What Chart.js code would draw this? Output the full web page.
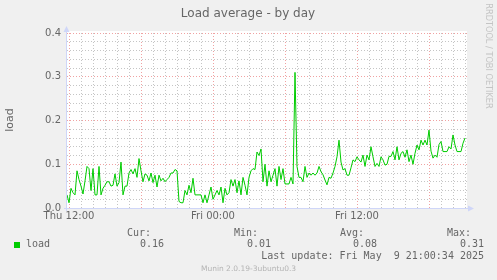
<!DOCTYPE html>
<html>
<head>
<meta charset="utf-8">
<script src="https://cdn.jsdelivr.net/npm/chart.js@4/dist/chart.umd.min.js"></script>
<style>
  html, body { margin: 0; padding: 0; background: #f0f0f0; }
  #wrap { position: relative; width: 497px; height: 280px; }
</style>
</head>
<body>
<div id="wrap"><canvas id="loadChart" width="497" height="280"></canvas></div>
<script>
// Load average samples, one every 10 minutes (hours counted from Thu 00:00)
const firstSampleHour = 11 + 50 / 60;
const sampleMinutes = 10;
const loadValues = [
  0.030, 0.012, 0.045, 0.035, 0.030, 0.085, 0.065, 0.050, 0.032, 0.062,
  0.095, 0.090, 0.040, 0.090, 0.030, 0.030, 0.095, 0.030, 0.045, 0.052,
  0.060, 0.060, 0.050, 0.052, 0.078, 0.050, 0.058, 0.105, 0.030, 0.050,
  0.050, 0.080, 0.088, 0.078, 0.090, 0.070, 0.113, 0.085, 0.060, 0.078,
  0.075, 0.062, 0.080, 0.058, 0.075, 0.048, 0.075, 0.062, 0.068, 0.060,
  0.065, 0.070, 0.080, 0.080, 0.088, 0.085, 0.015, 0.012, 0.012, 0.040,
  0.030, 0.052, 0.035, 0.068, 0.030, 0.030, 0.030, 0.030, 0.012, 0.030,
  0.012, 0.030, 0.048, 0.020, 0.030, 0.040, 0.030, 0.048, 0.012, 0.045,
  0.030, 0.035, 0.065, 0.050, 0.065, 0.035, 0.062, 0.030, 0.070, 0.052,
  0.030, 0.070, 0.085, 0.090, 0.088, 0.128, 0.120, 0.135, 0.060, 0.100,
  0.050, 0.085, 0.060, 0.075, 0.090, 0.050, 0.095, 0.065, 0.090, 0.055,
  0.055, 0.055, 0.070, 0.055, 0.310, 0.095, 0.070, 0.070, 0.060, 0.095,
  0.070, 0.080, 0.075, 0.080, 0.075, 0.080, 0.095, 0.083, 0.076, 0.064,
  0.053, 0.070, 0.068, 0.080, 0.095, 0.117, 0.155, 0.105, 0.087, 0.090,
  0.075, 0.075, 0.092, 0.110, 0.106, 0.117, 0.110, 0.105, 0.121, 0.095,
  0.121, 0.110, 0.140, 0.117, 0.095, 0.102, 0.095, 0.117, 0.110, 0.098,
  0.100, 0.118, 0.118, 0.129, 0.110, 0.140, 0.110, 0.125, 0.129, 0.116,
  0.133, 0.106, 0.121, 0.100, 0.125, 0.144, 0.133, 0.155, 0.144, 0.155,
  0.144, 0.178, 0.130, 0.114, 0.121, 0.116, 0.145, 0.152, 0.129, 0.129,
  0.129, 0.140, 0.135, 0.167, 0.144, 0.129, 0.129, 0.129, 0.148, 0.160
];

const xTickHours = [12, 24, 36];
const xTickLabels = ['Thu 12:00', 'Fri 00:00', 'Fri 12:00'];
const xRange = [11 + 50 / 60, 45 + 10 / 60];
const yRange = [0, 0.4];

const legendHeads = ['Cur:', 'Min:', 'Avg:', 'Max:'];
const legendValues = ['0.16', '0.01', '0.08', '0.31'];
const seriesName = 'load';
const lastUpdate = 'Last update: Fri May  9 21:00:34 2025';
const footer = 'Munin 2.0.19-3ubuntu0.3';
const watermark = 'RRDTOOL / TOBI OETIKER';

const GREEN = '#00cc00';
const FONT_COLOR = '#666666';
const AXIS_COLOR = '#cfd6f8';
const MINOR_GRID = 'rgba(140,140,140,0.5)';
const MAJOR_GRID = 'rgba(230,100,100,0.6)';

const points = loadValues.map((v, i) => ({ x: firstSampleHour + i * sampleMinutes / 60, y: v }));

const isMajorY = v => Math.abs(v * 10 - Math.round(v * 10)) < 1e-6;

// background, axis arrows and all of the rrdtool text
const munin = {
  id: 'munin',
  beforeDraw(chart) {
    const { ctx, chartArea: a } = chart;
    ctx.save();
    ctx.fillStyle = '#f0f0f0';
    ctx.fillRect(0, 0, chart.width, chart.height);
    ctx.fillStyle = '#ffffff';
    ctx.fillRect(a.left, a.top - 2, a.right - a.left, a.bottom - a.top + 2);
    ctx.restore();
  },
  afterDatasetsDraw(chart) {
    const { ctx, chartArea: a } = chart;
    ctx.save();
    // axes with arrows
    ctx.strokeStyle = AXIS_COLOR;
    ctx.fillStyle = AXIS_COLOR;
    ctx.lineWidth = 1;
    ctx.beginPath();
    ctx.moveTo(a.left - 3, a.bottom + 0.5);
    ctx.lineTo(a.right + 3, a.bottom + 0.5);
    ctx.moveTo(a.left - 0.5, a.bottom + 3);
    ctx.lineTo(a.left - 0.5, a.top - 3);
    ctx.stroke();
    ctx.beginPath();
    ctx.moveTo(a.right + 7, a.bottom + 0.5);
    ctx.lineTo(a.right + 1, a.bottom - 2.5);
    ctx.lineTo(a.right + 1, a.bottom + 3.5);
    ctx.closePath();
    ctx.fill();
    ctx.beginPath();
    ctx.moveTo(a.left - 0.5, a.top - 7);
    ctx.lineTo(a.left - 3.5, a.top - 1);
    ctx.lineTo(a.left + 2.5, a.top - 1);
    ctx.closePath();
    ctx.fill();
    ctx.restore();
  },
  afterDraw(chart) {
    const { ctx } = chart;
    ctx.save();
    ctx.fillStyle = FONT_COLOR;
    ctx.textBaseline = 'middle';

    ctx.font = '12px "DejaVu Sans"';
    ctx.textAlign = 'center';
    ctx.fillText('Load average - by day', 248, 13.5);

    ctx.save();
    ctx.font = '11px "DejaVu Sans"';
    ctx.translate(10.5, 120);
    ctx.rotate(-Math.PI / 2);
    ctx.fillText('load', 0, 0);
    ctx.restore();

    ctx.save();
    ctx.fillStyle = '#c4c4c4';
    ctx.font = '8.2px "DejaVu Sans"';
    ctx.translate(488.5, 56);
    ctx.rotate(Math.PI / 2);
    ctx.fillText(watermark, 0, 0);
    ctx.restore();

    ctx.font = '10px "DejaVu Sans Mono"';
    ctx.textAlign = 'right';
    const headRight = [151, 258, 364, 471];
    legendHeads.forEach((h, i) => ctx.fillText(h, headRight[i], 233));
    legendValues.forEach((v, i) => ctx.fillText(v, headRight[i] + 13, 244.5));
    ctx.fillText(lastUpdate, 484, 256.5);
    ctx.textAlign = 'left';
    ctx.fillText(seriesName, 26, 244.5);
    ctx.fillStyle = GREEN;
    ctx.fillRect(14, 242, 6, 6);

    ctx.fillStyle = '#b4b4b4';
    ctx.font = '7.5px "DejaVu Sans"';
    ctx.textAlign = 'center';
    ctx.fillText(footer, 248.5, 269.5);
    ctx.restore();
  }
};

new Chart(document.getElementById('loadChart'), {
  type: 'line',
  data: {
    datasets: [{
      label: seriesName,
      data: points,
      borderColor: GREEN,
      borderWidth: 1,
      pointRadius: 0,
      tension: 0,
      fill: false
    }]
  },
  options: {
    responsive: false,
    animation: false,
    events: [],
    layout: { padding: { left: 0, top: 33, right: 30, bottom: 0 } },
    plugins: { legend: { display: false }, tooltip: { enabled: false } },
    scales: {
      x: {
        type: 'linear',
        min: xRange[0],
        max: xRange[1],
        afterFit: s => { s.height = 72; },
        border: { display: false, dash: [1, 2] },
        grid: {
          drawTicks: false,
          color: c => (c.tick && c.tick.value % 6 === 0 ? MAJOR_GRID : MINOR_GRID)
        },
        ticks: {
          stepSize: 1,
          includeBounds: false,
          autoSkip: false,
          maxRotation: 0,
          padding: 2,
          color: FONT_COLOR,
          font: { family: 'DejaVu Sans', size: 10 },
          callback: v => {
            const i = xTickHours.indexOf(v);
            return i < 0 ? '' : xTickLabels[i];
          }
        }
      },
      y: {
        min: yRange[0],
        max: yRange[1],
        afterFit: s => { s.width = 67; },
        border: { display: false, dash: [1, 2] },
        grid: {
          drawTicks: false,
          color: c => (c.tick && isMajorY(c.tick.value) ? MAJOR_GRID : MINOR_GRID)
        },
        ticks: {
          stepSize: 0.02,
          autoSkip: false,
          padding: 6,
          color: FONT_COLOR,
          font: { family: 'DejaVu Sans', size: 10 },
          callback: v => (isMajorY(v) ? v.toFixed(1) : '')
        }
      }
    }
  },
  plugins: [munin]
});
</script>
</body>
</html>
